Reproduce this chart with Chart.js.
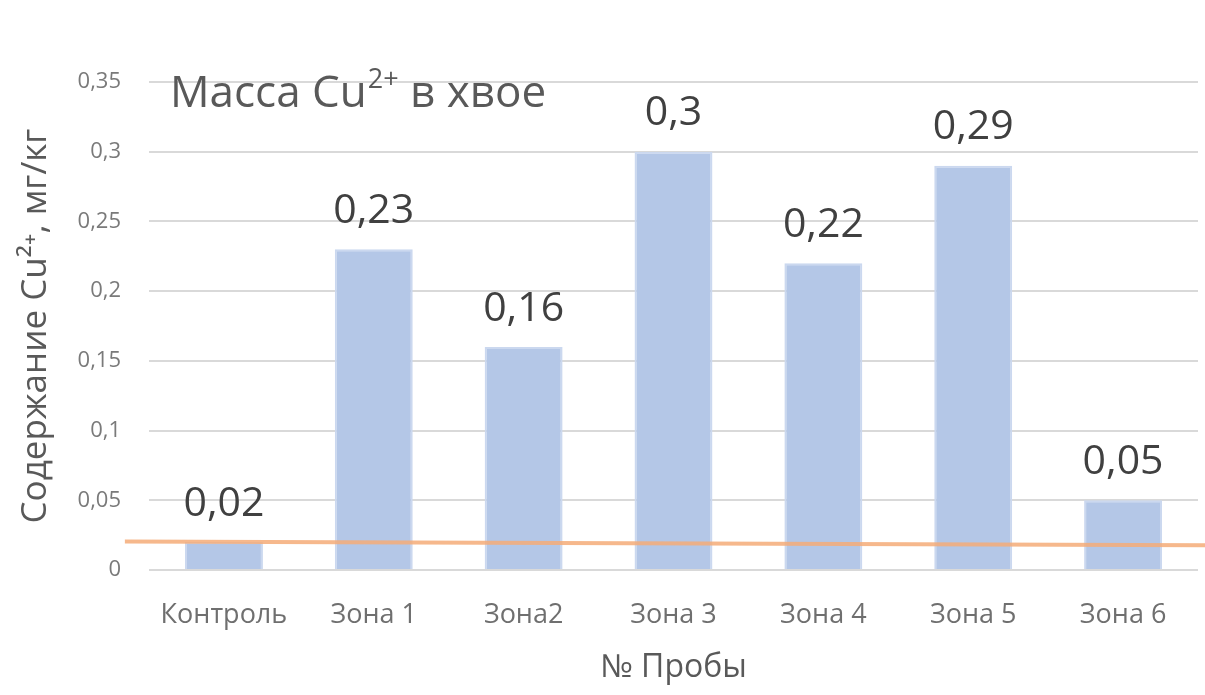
<!DOCTYPE html>
<html lang="ru">
<head>
<meta charset="utf-8">
<title>Масса Cu2+ в хвое</title>
<script src="https://cdn.jsdelivr.net/npm/chart.js@4.4.1/dist/chart.umd.min.js"></script>
<style>
  html, body { margin: 0; padding: 0; background: #ffffff; }
  #wrap { width: 1205px; height: 695px; position: relative; }
</style>
</head>
<body>
<div id="wrap"><canvas id="chart"></canvas></div>
<script>
// Samples and measured Cu2+ content, mg/kg
const categories = ['Контроль', 'Зона 1', 'Зона2', 'Зона 3', 'Зона 4', 'Зона 5', 'Зона 6'];
const copperValues = [0.02, 0.23, 0.16, 0.30, 0.22, 0.29, 0.05];

// Reference (control-level) line, drawn across the full width
const refLineX = [-0.023, 1.007];
const refLineY = [0.0205, 0.0178];

// Value axis settings
const yMin = 0;
const yMax = 0.35;
const yStep = 0.05;

const titleMain = 'Масса Cu';
const titleSup = '2+';
const titleRest = ' в хвое';
const yAxisTitle = 'Содержание Cu²⁺, мг/кг';
const xAxisTitle = '№ Пробы';

const FONT = '"Open Sans", "Noto Sans", sans-serif';

function fmt(v) {
  const r = Math.round(v * 100) / 100;
  return String(r).replace('.', ',');
}

// Value labels above the bars
const valueLabels = {
  id: 'valueLabels',
  afterDatasetsDraw(chart) {
    const meta = chart.getDatasetMeta(0);
    const ctx = chart.ctx;
    ctx.save();
    ctx.font = '41px ' + FONT;
    ctx.fillStyle = '#404040';
    ctx.textAlign = 'center';
    ctx.textBaseline = 'middle';
    meta.data.forEach((bar, i) => {
      ctx.fillText(fmt(copperValues[i]), bar.x, bar.y - 38);
    });
    ctx.restore();
  }
};

// Chart heading inside the plot area, with superscript charge
const innerTitle = {
  id: 'innerTitle',
  afterDraw(chart) {
    const ctx = chart.ctx;
    const area = chart.chartArea;
    const x0 = area.left + 21;
    const y0 = 94;
    ctx.save();
    ctx.fillStyle = '#595959';
    ctx.textBaseline = 'middle';
    ctx.textAlign = 'left';
    ctx.font = '44px ' + FONT;
    ctx.fillText(titleMain, x0, y0);
    let x = x0 + ctx.measureText(titleMain).width + 1;
    ctx.font = '27px ' + FONT;
    ctx.fillText(titleSup, x, y0 - 14);
    x += ctx.measureText(titleSup).width;
    ctx.font = '44px ' + FONT;
    ctx.fillText(titleRest, x, y0);
    ctx.restore();
  }
};

const ctx = document.getElementById('chart').getContext('2d');
new Chart(ctx, {
  data: {
    labels: categories,
    datasets: [
      {
        type: 'bar',
        data: copperValues,
        backgroundColor: '#b4c7e7',
        borderColor: '#cbd8ef',
        borderWidth: 2,
        borderSkipped: 'bottom',
        grouped: false,
        categoryPercentage: 1.0,
        barPercentage: 0.52,
        order: 2
      },
      {
        type: 'line',
        xAxisID: 'xLine',
        data: refLineX.map((xv, i) => ({ x: xv, y: refLineY[i] })),
        borderColor: 'rgba(244, 171, 120, 0.85)',
        borderWidth: 4,
        pointRadius: 0,
        fill: false,
        clip: false,
        order: 1
      }
    ]
  },
  options: {
    responsive: true,
    maintainAspectRatio: false,
    animation: false,
    layout: { padding: { left: 0, right: 7, top: 82, bottom: 0 } },
    plugins: {
      legend: { display: false },
      tooltip: { enabled: false },
      title: { display: false }
    },
    scales: {
      x: {
        type: 'category',
        grid: { display: false, drawTicks: false },
        border: { display: false },
        ticks: {
          color: '#6f6f6f',
          font: { family: FONT, size: 27 },
          padding: 29,
          maxRotation: 0,
          autoSkip: false
        },
        title: {
          display: true,
          text: xAxisTitle,
          color: '#595959',
          font: { family: FONT, size: 32 },
          padding: { top: 6, bottom: 8 }
        },
        afterFit(scale) { scale.height = 125; }
      },
      xLine: {
        type: 'linear',
        display: false,
        min: 0,
        max: 1
      },
      y: {
        min: yMin,
        max: yMax,
        ticks: {
          stepSize: yStep,
          color: '#7a7a7a',
          font: { family: FONT, size: 22 },
          padding: 28,
          callback: (v) => fmt(v)
        },
        grid: { color: '#d9d9d9', lineWidth: 2, drawTicks: false },
        border: { display: false },
        title: {
          display: true,
          text: yAxisTitle,
          color: '#595959',
          font: { family: FONT, size: 35 },
          padding: { top: 15, bottom: 4 }
        },
        afterFit(scale) { scale.width = 149; }
      }
    }
  },
  plugins: [valueLabels, innerTitle]
});
</script>
</body>
</html>
